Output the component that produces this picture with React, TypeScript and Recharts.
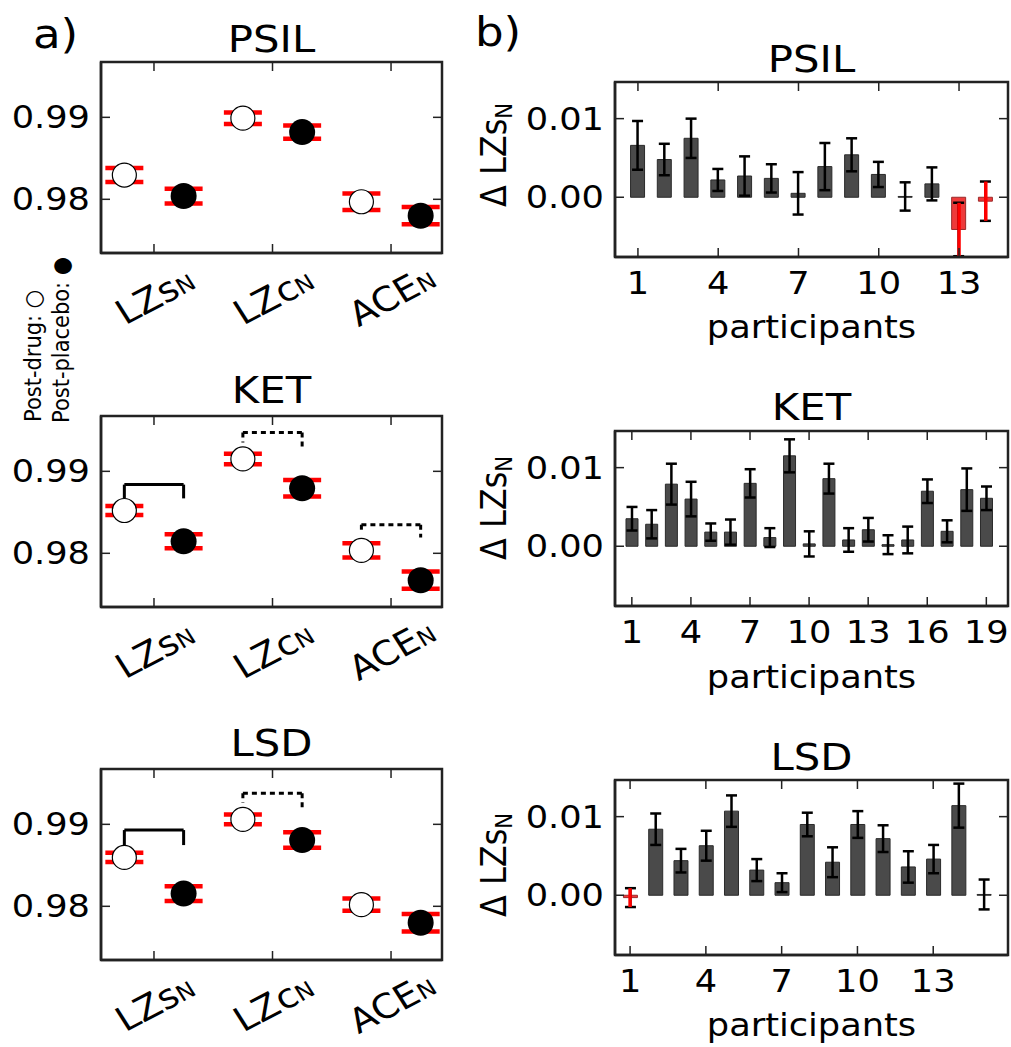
import React from 'react'
import { ComposedChart, Scatter, Bar, Cell, XAxis, YAxis, ErrorBar, ReferenceLine, ReferenceArea } from 'recharts'

const FONT = '"DejaVu Sans", "Liberation Sans", sans-serif'
const AX = '#222'
const STRETCH = 'scale(1.1,1)' // the source figure's lettering is a little wider than tall

// a) normalised complexity per measure, post-drug vs post-placebo
const measures = ['LZs', 'LZc', 'ACE']

const psilDrug = [0.98296, 0.9899, 0.9797]
const psilDrugErr = [0.00085, 0.0007, 0.001]
const psilPlacebo = [0.9804, 0.9882, 0.978]
const psilPlaceboErr = [0.0009, 0.0008, 0.00105]

const ketDrug = [0.98522, 0.99151, 0.98036]
const ketDrugErr = [0.00055, 0.00065, 0.00087]
const ketPlacebo = [0.98146, 0.98793, 0.97672]
const ketPlaceboErr = [0.00085, 0.001, 0.00105]

const lsdDrug = [0.98596, 0.99061, 0.9802]
const lsdDrugErr = [0.00057, 0.0006, 0.00075]
const lsdPlacebo = [0.98155, 0.98808, 0.978]
const lsdPlaceboErr = [0.0009, 0.00094, 0.00106]

// significance brackets: solid = significant, dotted = trend
const psilBrackets: Bracket[] = []
const ketBrackets: Bracket[] = [
  { x1: 0.75, x2: 1.25, top: 0.98838, left: 0.9867, right: 0.9867, dashed: false },
  { x1: 1.75, x2: 2.25, top: 0.99474, left: 0.99352, right: 0.993, dashed: true },
  { x1: 2.75, x2: 3.25, top: 0.98349, left: 0.98247, right: 0.98194, dashed: true },
]
const lsdBrackets: Bracket[] = [
  { x1: 0.75, x2: 1.25, top: 0.9893, left: 0.98747, right: 0.98747, dashed: false },
  { x1: 1.75, x2: 2.25, top: 0.99379, left: 0.99264, right: 0.99208, dashed: true },
]

// b) per-participant change in LZs_N
const psilDelta = [0.0066, 0.0048, 0.0075, 0.0022, 0.0027, 0.0024, 0.0005, 0.0039, 0.0054, 0.0029, 0.0001, 0.0017, -0.0041, -0.0005]
const psilDeltaErr = [0.0031, 0.002, 0.0025, 0.0014, 0.0025, 0.0018, 0.0027, 0.003, 0.0021, 0.0016, 0.0018, 0.0021, 0.0034, 0.0025]
const psilNeg = [13, 14]

const ketDelta = [0.0035, 0.0028, 0.0079, 0.006, 0.0018, 0.0018, 0.008, 0.0011, 0.0115, 0.0003, 0.0086, 0.0008, 0.0021, 0.0002, 0.0008, 0.007, 0.0019, 0.0072, 0.0061]
const ketDeltaErr = [0.0015, 0.0018, 0.0026, 0.0022, 0.0011, 0.0016, 0.0018, 0.0012, 0.0021, 0.0016, 0.0019, 0.0015, 0.0015, 0.0012, 0.0017, 0.0015, 0.0014, 0.0027, 0.0015]
const ketNeg: number[] = []

const lsdDelta = [-0.0003, 0.0084, 0.0044, 0.0063, 0.0107, 0.0032, 0.0016, 0.009, 0.0042, 0.009, 0.0072, 0.0036, 0.0046, 0.0114, 0.0001]
const lsdDeltaErr = [0.0012, 0.002, 0.0015, 0.0019, 0.002, 0.0014, 0.0012, 0.0015, 0.0019, 0.0017, 0.0017, 0.002, 0.0018, 0.0028, 0.0019]
const lsdNeg = [1]

const psilTicks = [1, 4, 7, 10, 13]
const ketTicks = [1, 4, 7, 10, 13, 16, 19]
const lsdTicks = [1, 4, 7, 10, 13]

type Bracket = { x1: number; x2: number; top: number; left: number; right: number; dashed: boolean }
type TickProps = { x?: number; y?: number; payload?: { value: number }; span?: number }

function MeasureTick({ x = 0, y = 0, payload, span = 0 }: TickProps) {
  const name = measures[(payload?.value ?? 1) - 1]
  return (
    <g>
      <line x1={x} x2={x} y1={y} y2={y - 9} stroke={AX} strokeWidth={1.5} />
      <line x1={x} x2={x} y1={y - span} y2={y - span + 9} stroke={AX} strokeWidth={1.5} />
      <text
        transform={`translate(${x + 1},${y + 43}) ${STRETCH} rotate(-30)`}
        textAnchor="middle"
        dominantBaseline="central"
        fontSize={34}
        fontFamily={FONT}
        fill="#000"
      >
        {name}
        <tspan fontSize={22} dy={4}>N</tspan>
      </text>
    </g>
  )
}

function NumTickBottom({ x = 0, y = 0, payload, span = 0 }: TickProps) {
  return (
    <g>
      <line x1={x} x2={x} y1={y} y2={y - 9} stroke={AX} strokeWidth={1.5} />
      <line x1={x} x2={x} y1={y - span} y2={y - span + 9} stroke={AX} strokeWidth={1.5} />
      <text
        transform={`translate(${x},${y + 26}) ${STRETCH}`}
        textAnchor="middle"
        dominantBaseline="central"
        fontSize={32}
        fontFamily={FONT}
        fill="#000"
      >
        {payload?.value}
      </text>
    </g>
  )
}

function LeftTick({ x = 0, y = 0, payload, span = 0 }: TickProps) {
  return (
    <g>
      <line x1={x} x2={x + 9} y1={y} y2={y} stroke={AX} strokeWidth={1.5} />
      <line x1={x + span} x2={x + span - 9} y1={y} y2={y} stroke={AX} strokeWidth={1.5} />
      <text
        transform={`translate(${x - 11},${y}) ${STRETCH}`}
        textAnchor="end"
        dominantBaseline="central"
        fontSize={32}
        fontFamily={FONT}
        fill="#000"
      >
        {(payload?.value ?? 0).toFixed(2)}
      </text>
    </g>
  )
}

const frame = { stroke: AX, strokeWidth: 2.5 }

function OpenDot({ cx, cy }: { cx?: number; cy?: number }) {
  return <circle cx={cx} cy={cy} r={12} fill="#fff" stroke="#000" strokeWidth={1.2} />
}

function FilledDot({ cx, cy }: { cx?: number; cy?: number }) {
  return <circle cx={cx} cy={cy} r={13} fill="#000" />
}

function NoDot() {
  return <g />
}

const LEFT_W = 341
const LEFT_H = 191

function ComplexityPanel(props: {
  top: number
  drug: number[]
  drugErr: number[]
  placebo: number[]
  placeboErr: number[]
  brackets: Bracket[]
}) {
  const { top, drug, drugErr, placebo, placeboErr, brackets } = props
  const drugPts = drug.map((v, i) => ({ x: i + 1 - 0.25, y: v, e: drugErr[i] }))
  const placeboPts = placebo.map((v, i) => ({ x: i + 1 + 0.25, y: v, e: placeboErr[i] }))
  const xDomain = [0.553, 3.43]
  const yDomain = [0.97345, 0.99675]

  return (
    <div style={{ position: 'absolute', left: 6, top: top - 20 }}>
      <ComposedChart width={95 + LEFT_W + 10} height={20 + LEFT_H + 80} margin={{ top: 20, right: 10, left: 0, bottom: 0 }}>
        <XAxis
          type="number"
          dataKey="x"
          domain={xDomain}
          ticks={[1, 2, 3]}
          allowDataOverflow
          interval={0}
          height={80}
          tickSize={0}
          tickMargin={0}
          axisLine={frame}
          tickLine={false}
          tick={(p: TickProps) => <MeasureTick {...p} span={LEFT_H} />}
        />
        <YAxis
          type="number"
          dataKey="y"
          domain={yDomain}
          ticks={[0.98, 0.99]}
          allowDataOverflow
          interval={0}
          width={95}
          tickSize={0}
          tickMargin={0}
          axisLine={frame}
          tickLine={false}
          tick={(p: TickProps) => <LeftTick {...p} span={LEFT_W} />}
        />
        <ReferenceArea x1={xDomain[0]} x2={xDomain[1]} y1={yDomain[0]} y2={yDomain[1]} fill="none" stroke={AX} strokeWidth={2.5} />
        {brackets.flatMap((b, i) => {
          const dash = b.dashed ? '5 4' : undefined
          return [
            <ReferenceLine key={`h${i}`} segment={[{ x: b.x1, y: b.top }, { x: b.x2, y: b.top }]} stroke="#000" strokeWidth={3} strokeDasharray={dash} />,
            <ReferenceLine key={`l${i}`} segment={[{ x: b.x1, y: b.top }, { x: b.x1, y: b.left }]} stroke="#000" strokeWidth={3} strokeDasharray={dash} />,
            <ReferenceLine key={`r${i}`} segment={[{ x: b.x2, y: b.top }, { x: b.x2, y: b.right }]} stroke="#000" strokeWidth={3} strokeDasharray={dash} />,
          ]
        })}
        <Scatter data={drugPts} dataKey="y" isAnimationActive={false} shape={(p: any) => <OpenDot {...p} />}>
          <ErrorBar dataKey="e" direction="y" width={19} strokeWidth={4.5} stroke="#ff0000" isAnimationActive={false} />
        </Scatter>
        <Scatter data={placeboPts} dataKey="y" isAnimationActive={false} shape={(p: any) => <FilledDot {...p} />}>
          <ErrorBar dataKey="e" direction="y" width={19} strokeWidth={4.5} stroke="#ff0000" isAnimationActive={false} />
        </Scatter>
      </ComposedChart>
    </div>
  )
}

const RIGHT_W = 393
const RIGHT_H = 175

function DeltaPanel(props: {
  top: number
  values: number[]
  errs: number[]
  negative: number[]
  xDomain: number[]
  ticks: number[]
  barSize: number
}) {
  const { top, values, errs, negative, xDomain, ticks, barSize } = props
  const rows = values.map((v, i) => ({ p: i + 1, v, e: errs[i] }))
  const redRows = rows.filter((r) => negative.includes(r.p))
  const yDomain = [-0.0076, 0.01466]

  return (
    <div style={{ position: 'absolute', left: 515, top: top - 10 }}>
      <ComposedChart width={100 + RIGHT_W + 2} height={10 + RIGHT_H + 50} data={rows} margin={{ top: 10, right: 2, left: 0, bottom: 0 }}>
        <XAxis
          type="number"
          dataKey="p"
          domain={xDomain}
          ticks={ticks}
          allowDataOverflow
          interval={0}
          height={50}
          tickSize={0}
          tickMargin={0}
          axisLine={frame}
          tickLine={false}
          tick={(p: TickProps) => <NumTickBottom {...p} span={RIGHT_H} />}
        />
        <YAxis
          type="number"
          domain={yDomain}
          ticks={[0, 0.01]}
          allowDataOverflow
          interval={0}
          width={100}
          tickSize={0}
          tickMargin={0}
          axisLine={frame}
          tickLine={false}
          tick={(p: TickProps) => <LeftTick {...p} span={RIGHT_W} />}
        />
        <ReferenceArea x1={xDomain[0]} x2={xDomain[1]} y1={yDomain[0]} y2={yDomain[1]} fill="none" stroke={AX} strokeWidth={2.5} />
        <Bar dataKey="v" barSize={barSize} isAnimationActive={false} strokeWidth={1}>
          {rows.map((r) => (
            <Cell
              key={r.p}
              fill={negative.includes(r.p) ? '#ee3a3a' : '#4a4a4a'}
              stroke={negative.includes(r.p) ? '#9a2a2a' : '#2b2b2b'}
            />
          ))}
          <ErrorBar dataKey="e" direction="y" width={5.5} strokeWidth={2.5} stroke="#000" isAnimationActive={false} />
        </Bar>
        {redRows.length > 0 && (
          <Scatter data={redRows} dataKey="v" isAnimationActive={false} shape={() => <NoDot />}>
            <ErrorBar dataKey="e" direction="y" width={0} strokeWidth={3.5} stroke="#ff0000" isAnimationActive={false} />
          </Scatter>
        )}
      </ComposedChart>
    </div>
  )
}

function Label(props: { x: number; y: number; size: number; anchor?: 'start' | 'middle' | 'end'; rotate?: number; children: React.ReactNode }) {
  const { x, y, size, anchor = 'start', rotate, children } = props
  return (
    <text
      transform={`translate(${x},${y}) ${STRETCH}${rotate ? ` rotate(${rotate})` : ''}`}
      textAnchor={anchor}
      fontSize={size}
      fontFamily={FONT}
      fill="#000"
    >
      {children}
    </text>
  )
}

function Overlay() {
  const deltaLabel = (cy: number) => (
    <Label x={506} y={cy} size={32} anchor="middle" rotate={-90}>
      Δ LZs<tspan fontSize={21} dy={5}>N</tspan>
    </Label>
  )
  return (
    <svg width={1011} height={1047} style={{ position: 'absolute', left: 0, top: 0, pointerEvents: 'none' }}>
      <Label x={33} y={48} size={41}>a)</Label>
      <Label x={475} y={46} size={41}>b)</Label>

      <Label x={271.5} y={52} size={38} anchor="middle">PSIL</Label>
      <Label x={271.5} y={403} size={38} anchor="middle">KET</Label>
      <Label x={271.5} y={756} size={38} anchor="middle">LSD</Label>

      <Label x={811.5} y={72} size={38} anchor="middle">PSIL</Label>
      <Label x={811.5} y={420} size={38} anchor="middle">KET</Label>
      <Label x={811.5} y={770} size={38} anchor="middle">LSD</Label>

      <Label x={41} y={422} size={21} rotate={-90}>Post-drug: ○</Label>
      <Label x={69} y={423} size={21} rotate={-90}>Post-placebo: ●</Label>

      {deltaLabel(155)}
      {deltaLabel(508)}
      {deltaLabel(865)}

      <Label x={811.5} y={338} size={32} anchor="middle">participants</Label>
      <Label x={811.5} y={688} size={32} anchor="middle">participants</Label>
      <Label x={811.5} y={1036} size={32} anchor="middle">participants</Label>
    </svg>
  )
}

export default function App() {
  return (
    <div style={{ position: 'absolute', left: 0, top: 0, width: 1011, height: 1047, background: '#fff', fontFamily: FONT }}>
      <ComplexityPanel top={62} drug={psilDrug} drugErr={psilDrugErr} placebo={psilPlacebo} placeboErr={psilPlaceboErr} brackets={psilBrackets} />
      <ComplexityPanel top={416} drug={ketDrug} drugErr={ketDrugErr} placebo={ketPlacebo} placeboErr={ketPlaceboErr} brackets={ketBrackets} />
      <ComplexityPanel top={769} drug={lsdDrug} drugErr={lsdDrugErr} placebo={lsdPlacebo} placeboErr={lsdPlaceboErr} brackets={lsdBrackets} />

      <DeltaPanel top={82} values={psilDelta} errs={psilDeltaErr} negative={psilNeg} xDomain={[0.143, 14.83]} ticks={psilTicks} barSize={14} />
      <DeltaPanel top={431} values={ketDelta} errs={ketDeltaErr} negative={ketNeg} xDomain={[0.145, 20.1]} ticks={ketTicks} barSize={12} />
      <DeltaPanel top={780} values={lsdDelta} errs={lsdDeltaErr} negative={lsdNeg} xDomain={[0.403, 15.96]} ticks={lsdTicks} barSize={14} />

      <Overlay />
    </div>
  )
}
